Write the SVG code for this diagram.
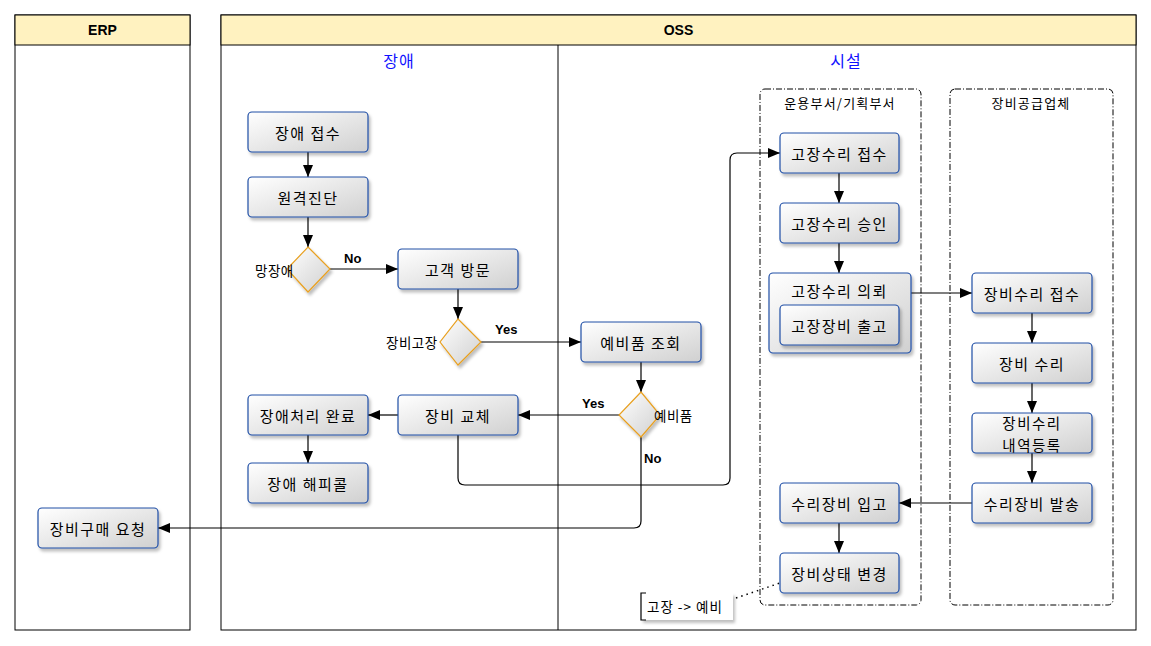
<svg xmlns="http://www.w3.org/2000/svg" width="1151" height="646" viewBox="0 0 1151 646">
<defs>
<linearGradient id="g" x1="0" y1="0" x2="1" y2="1">
<stop offset="0" stop-color="#ffffff"/>
<stop offset="1" stop-color="#d0d0d0"/>
</linearGradient>
<filter id="sh" x="-10%" y="-10%" width="130%" height="140%">
<feDropShadow dx="2" dy="3" stdDeviation="1.5" flood-color="#000" flood-opacity="0.25"/>
</filter>
<marker id="arr" viewBox="0 0 12 10" refX="12" refY="5" markerWidth="12" markerHeight="10" markerUnits="userSpaceOnUse" orient="auto">
<path d="M0,0 L12,5 L0,10 Z" fill="#000"/>
</marker>
</defs>
<style>
.lane{fill:#fff;stroke:#000;stroke-width:1}
.hdr{fill:#fff2c0;stroke:#000;stroke-width:1}
.ht{font-family:"Liberation Sans",Arial,sans-serif;font-weight:bold;font-size:14px;text-anchor:middle}
.sub{font-family:"Noto Sans CJK KR",sans-serif;font-size:16px;fill:#1010ff;text-anchor:middle;letter-spacing:1px}
.grp{fill:none;stroke:#000;stroke-width:1;stroke-dasharray:6,2,1,2}
.gt{font-family:"Noto Sans CJK KR",sans-serif;font-size:13px;text-anchor:middle;letter-spacing:1.2px}
.n rect{fill:url(#g);stroke:#1f4ea6;stroke-width:1.2;filter:url(#sh)}
.n path{fill:url(#g);stroke:#e8a020;stroke-width:1.2;filter:url(#sh)}
.t{font-family:"Noto Sans CJK KR",sans-serif;font-size:15px;text-anchor:middle;dominant-baseline:central;letter-spacing:1.5px}
.dl{font-family:"Noto Sans CJK KR",sans-serif;font-size:13.5px;dominant-baseline:central;letter-spacing:0.5px}
.e path,.e line{fill:none;stroke:#000;stroke-width:1.2}
.lbl{font-family:"Liberation Sans",Arial,sans-serif;font-weight:bold;font-size:13px}
</style>
<g id="lanes">
<rect class="lane" x="15" y="15" width="175" height="615"/>
<rect class="hdr" x="15" y="15" width="175" height="30"/>
<text class="ht" x="102.5" y="35">ERP</text>
<rect class="lane" x="221" y="15" width="915" height="615"/>
<rect class="hdr" x="221" y="15" width="915" height="30"/>
<text class="ht" x="678.5" y="35">OSS</text>
<line x1="558" y1="45" x2="558" y2="630" stroke="#000"/>
<text class="sub" x="399" y="67">장애</text>
<text class="sub" x="846" y="67">시설</text>
<rect class="grp" x="760" y="89" width="161" height="516" rx="5"/>
<text class="gt" x="840" y="108">운용부서/기획부서</text>
<rect class="grp" x="950" y="89" width="163" height="516" rx="5"/>
<text class="gt" x="1031" y="108">장비공급업체</text>
</g>
<g id="connectors" class="e">
<line x1="308" y1="152" x2="308" y2="177" marker-end="url(#arr)"/>
<line x1="308" y1="217" x2="308" y2="247" marker-end="url(#arr)"/>
<line x1="330" y1="269" x2="398" y2="269" marker-end="url(#arr)"/>
<line x1="458" y1="289" x2="458" y2="319" marker-end="url(#arr)"/>
<line x1="481" y1="342" x2="581" y2="342" marker-end="url(#arr)"/>
<line x1="641" y1="362" x2="641" y2="392" marker-end="url(#arr)"/>
<line x1="619" y1="415" x2="518" y2="415" marker-end="url(#arr)"/>
<line x1="398" y1="415" x2="368" y2="415" marker-end="url(#arr)"/>
<line x1="308" y1="435" x2="308" y2="463" marker-end="url(#arr)"/>
<path d="M458 435 V478 Q458 485 465 485 H723 Q730 485 730 478 V160 Q730 153 737 153 H780" marker-end="url(#arr)"/>
<path d="M641 437 V521 Q641 528 634 528 H158" marker-end="url(#arr)"/>
<line x1="839" y1="173" x2="839" y2="203" marker-end="url(#arr)"/>
<line x1="839" y1="243" x2="839" y2="273" marker-end="url(#arr)"/>
<line x1="911" y1="293" x2="972" y2="293" marker-end="url(#arr)"/>
<line x1="1032" y1="313" x2="1032" y2="343" marker-end="url(#arr)"/>
<line x1="1032" y1="383" x2="1032" y2="413" marker-end="url(#arr)"/>
<line x1="1032" y1="453" x2="1032" y2="483" marker-end="url(#arr)"/>
<line x1="972" y1="503" x2="899" y2="503" marker-end="url(#arr)"/>
<line x1="839" y1="523" x2="839" y2="553" marker-end="url(#arr)"/>
<line x1="736" y1="598" x2="780" y2="583" style="stroke-dasharray:1.5,4;stroke-width:1.5"/>
<text class="lbl" x="344" y="263">No</text>
<text class="lbl" x="495" y="334">Yes</text>
<text class="lbl" x="582" y="408">Yes</text>
<text class="lbl" x="644" y="463">No</text>
</g>
<g id="n1" class="n"><rect x="248" y="112" width="120" height="40" rx="4"/><text class="t" x="308" y="132">장애 접수</text></g>
<g id="n2" class="n"><rect x="248" y="177" width="120" height="40" rx="4"/><text class="t" x="308" y="197">원격진단</text></g>
<g id="d1" class="n"><path d="M308 247 L330 269 L308 292 L287 269 Z"/><text class="dl" x="255" y="270">망장애</text></g>
<g id="n3" class="n"><rect x="398" y="249" width="120" height="40" rx="4"/><text class="t" x="458" y="269">고객 방문</text></g>
<g id="d2" class="n"><path d="M458 319 L481 342 L458 365 L440 342 Z"/><text class="dl" x="386" y="342">장비고장</text></g>
<g id="n4" class="n"><rect x="581" y="322" width="120" height="40" rx="4"/><text class="t" x="641" y="342">예비품 조회</text></g>
<g id="d3" class="n"><path d="M641 392 L660 415 L641 437 L619 415 Z"/><text class="dl" x="654" y="415">예비품</text></g>
<g id="n5" class="n"><rect x="398" y="395" width="120" height="40" rx="4"/><text class="t" x="458" y="415">장비 교체</text></g>
<g id="n6" class="n"><rect x="248" y="395" width="120" height="40" rx="4"/><text class="t" x="308" y="415">장애처리 완료</text></g>
<g id="n7" class="n"><rect x="248" y="463" width="120" height="40" rx="4"/><text class="t" x="308" y="483">장애 해피콜</text></g>
<g id="n8" class="n"><rect x="38" y="508" width="120" height="40" rx="4"/><text class="t" x="98" y="528">장비구매 요청</text></g>
<g id="n9" class="n"><rect x="780" y="133" width="119" height="40" rx="4"/><text class="t" x="839.5" y="153">고장수리 접수</text></g>
<g id="n10" class="n"><rect x="780" y="203" width="119" height="40" rx="4"/><text class="t" x="839.5" y="223">고장수리 승인</text></g>
<g id="n11" class="n"><rect x="769" y="273" width="142" height="80" rx="4"/><text class="t" x="839.5" y="290">고장수리 의뢰</text></g>
<g id="n12" class="n"><rect x="780" y="305" width="119" height="40" rx="4"/><text class="t" x="839.5" y="325">고장장비 출고</text></g>
<g id="n13" class="n"><rect x="972" y="273" width="120" height="40" rx="4"/><text class="t" x="1032" y="293">장비수리 접수</text></g>
<g id="n14" class="n"><rect x="972" y="343" width="120" height="40" rx="4"/><text class="t" x="1032" y="363">장비 수리</text></g>
<g id="n15" class="n"><rect x="972" y="413" width="120" height="40" rx="4"/><text class="t" x="1032" y="422" style="font-size:14.5px">장비수리</text><text class="t" x="1032" y="444" style="font-size:14.5px">내역등록</text></g>
<g id="n16" class="n"><rect x="972" y="483" width="120" height="40" rx="4"/><text class="t" x="1032" y="503">수리장비 발송</text></g>
<g id="n17" class="n"><rect x="780" y="483" width="119" height="40" rx="4"/><text class="t" x="839.5" y="503">수리장비 입고</text></g>
<g id="n18" class="n"><rect x="780" y="553" width="119" height="40" rx="4"/><text class="t" x="839.5" y="573">장비상태 변경</text></g>
<g id="note">
<rect x="641" y="593" width="92" height="27" fill="#fff" style="filter:url(#sh)"/>
<path d="M646 593 H641 V620 H646" fill="none" stroke="#000" stroke-width="1.2"/>
<text class="dl" x="647" y="606" style="letter-spacing:1px">고장 -&gt; 예비</text>
</g>
</svg>
